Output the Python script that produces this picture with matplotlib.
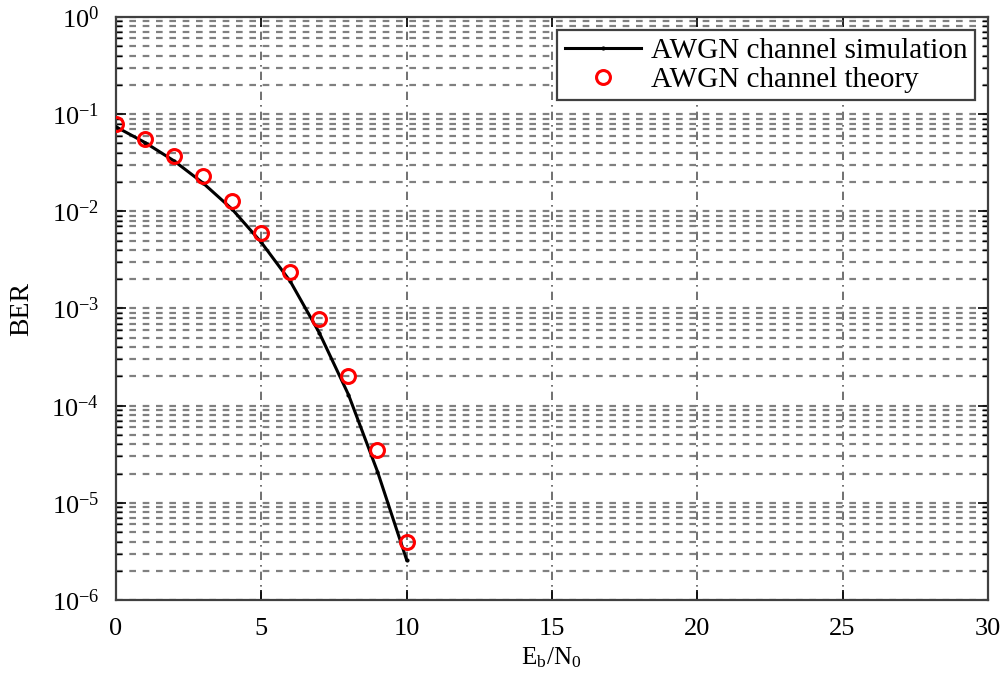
import numpy as np
import matplotlib.pyplot as plt
from matplotlib.ticker import LogLocator, NullFormatter, FixedLocator

plt.rcParams['font.family'] = ['Liberation Serif', 'DejaVu Serif']
plt.rcParams['mathtext.fontset'] = 'stix'

# Eb/N0 (dB)
ebno = [0, 1, 2, 3, 4, 5, 6, 7, 8, 9, 10]
# simulated BER (black line)
ber_sim = [0.074, 0.051, 0.033, 0.0195, 0.0105, 0.0048, 0.0019, 5.6e-4, 1.3e-4, 2.1e-5, 2.6e-6]
# theoretical BER (red circles)
ber_theory = [0.079, 0.0556, 0.037, 0.0231, 0.0128, 0.006, 0.0024, 7.8e-4, 2.0e-4, 3.5e-5, 4.0e-6]
yticks = [1e-6, 1e-5, 1e-4, 1e-3, 1e-2, 1e-1, 1]

fig = plt.figure(figsize=(10.08, 6.77), dpi=100)
ax = fig.add_axes([0.115, 0.1137, 0.865, 0.8613])

ax.semilogy(ebno, ber_sim, color='black', lw=2.2, marker='.', markersize=4,
            label='AWGN channel simulation', zorder=3)
ax.semilogy(ebno, ber_theory, linestyle='none', marker='o', markersize=10,
            markerfacecolor='none', markeredgecolor='red', markeredgewidth=2.2,
            label='AWGN channel theory', zorder=4)

ax.set_xlim(0, 30)
ax.set_ylim(1e-6, 1)
ax.set_xticks([0, 5, 10, 15, 20, 25, 30])
ax.yaxis.set_major_locator(FixedLocator(yticks))
ax.yaxis.set_minor_locator(LogLocator(base=10, subs=np.arange(2, 10), numticks=20))
ax.yaxis.set_minor_formatter(NullFormatter())

ax.grid(True, which='major', axis='x', color='0.35', linestyle=(0, (5, 3, 1, 3)), lw=1.2)
ax.grid(True, which='major', axis='y', color='0.5', linestyle=(0, (3, 3)), lw=1.6)
ax.grid(True, which='minor', axis='y', color='0.5', linestyle=(0, (3, 3)), lw=1.6)

ax.tick_params(which='both', direction='in', top=True, right=True, labelsize=19)
ax.tick_params(which='major', length=7, width=1.2)
ax.tick_params(which='minor', length=4, width=1)
ax.tick_params(axis='x', pad=13)
ax.tick_params(axis='y', pad=12)
for s in ax.spines.values():
    s.set_linewidth(1.6)
    s.set_color('0.25')

ax.set_xlabel(r'E$_\mathregular{b}$/N$_\mathregular{0}$', fontsize=18, labelpad=4)
ax.set_ylabel('BER', fontsize=20, labelpad=12)

leg = ax.legend(loc='upper right', fontsize=21, frameon=True, fancybox=False,
                edgecolor='0.25', framealpha=1, borderaxespad=0.45,
                handlelength=2.6, handletextpad=0.35, borderpad=0.25, labelspacing=0.1)
leg.get_frame().set_linewidth(1.6)

plt.savefig('out.png')
